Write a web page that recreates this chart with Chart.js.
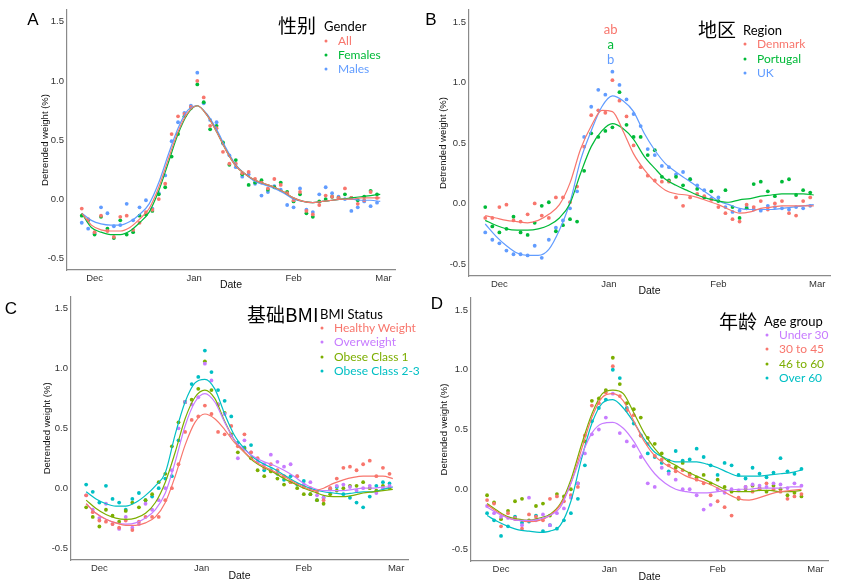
<!DOCTYPE html>
<html>
<head>
<meta charset="utf-8">
<script src="https://cdn.jsdelivr.net/npm/chart.js@4.4.1/dist/chart.umd.min.js"></script>
<style>
  html, body { margin: 0; padding: 0; background: #fff; }
  #wrap { position: relative; width: 861px; height: 588px; overflow: hidden; }
  #wrap canvas { position: absolute; }
  .tag { position: absolute; font-family: "Liberation Sans", Arial, sans-serif; font-size: 17px; line-height: 1; color: #000; transform: translate(-50%, -50%); }
  .txt { position: absolute; line-height: 1; white-space: nowrap; transform: translateY(-50%); }
  .dot { position: absolute; width: 3px; height: 3px; border-radius: 50%; transform: translate(-50%, -50%); }
</style>
</head>
<body>
<div id="wrap"></div>
<script>
'use strict';

// x values are days counted from 1 Dec
const pointDays = [-4, -2, 0, 2, 4, 6, 8, 10, 12, 14, 16, 18, 20, 22, 24, 26, 28, 30, 32, 34,
  36, 38, 40, 42, 44, 46, 48, 50, 52, 54, 56, 58, 60, 62, 64, 66, 68, 70, 72, 74, 76, 78, 80,
  82, 84, 86, 88];
const fitDays = [-4, -1, 2, 5, 8, 11, 14, 17, 20, 23, 26, 29, 32, 35, 38, 41, 44, 47, 50, 53,
  56, 59, 62, 65, 68, 71, 74, 77, 80, 83, 86, 89];
const monthTickDays = [0, 31, 62, 90];
const monthTickLabels = ['Dec', 'Jan', 'Feb', 'Mar'];
const yTickValues = [-0.5, 0, 0.5, 1, 1.5];

// A: gender
const allPts = [-0.08, -0.17, -0.28, -0.14, -0.27, -0.32, -0.15, -0.14, -0.26, -0.20, -0.11, -0.09, 0.00, 0.13, 0.55, 0.70, 0.72, 0.78, 1.00, 0.86, 0.62, 0.60, 0.40, 0.30, 0.30, 0.22, 0.23, 0.17, 0.14, 0.09, 0.17, 0.12, 0.05, -0.01, 0.06, -0.10, -0.13, -0.05, 0.03, 0.02, 0.01, 0.09, 0.01, -0.04, -0.01, 0.06, 0.01];
const femalesPts = [-0.14, -0.18, -0.30, -0.15, -0.25, -0.33, -0.18, -0.30, -0.28, -0.14, -0.13, -0.10, 0.04, 0.10, 0.36, 0.55, 0.70, 0.77, 0.97, 0.82, 0.59, 0.62, 0.48, 0.29, 0.33, 0.21, 0.12, 0.14, 0.16, 0.08, 0.10, 0.14, 0.06, -0.02, 0.04, -0.12, -0.15, -0.02, 0.00, 0.02, 0.01, 0.04, 0.01, -0.01, 0.02, 0.07, 0.04];
const malesPts = [-0.20, -0.25, -0.29, -0.07, -0.12, -0.23, -0.22, -0.04, -0.18, -0.07, -0.01, -0.08, 0.05, 0.20, 0.49, 0.65, 0.73, 0.79, 1.07, 0.81, 0.67, 0.65, 0.47, 0.37, 0.27, 0.19, 0.21, 0.13, 0.03, 0.06, 0.11, 0.08, -0.05, -0.07, 0.09, -0.09, -0.11, 0.04, 0.10, 0.05, 0.02, 0.00, -0.10, -0.07, -0.02, -0.06, -0.03];
const allFit = [-0.12, -0.22, -0.26, -0.27, -0.27, -0.24, -0.17, -0.08, 0.10, 0.34, 0.57, 0.73, 0.79, 0.71, 0.57, 0.41, 0.28, 0.21, 0.16, 0.13, 0.10, 0.06, 0.01, -0.02, -0.03, -0.02, -0.01, 0.00, 0.00, 0.01, 0.01, 0.01];
const femalesFit = [-0.12, -0.24, -0.28, -0.30, -0.30, -0.27, -0.20, -0.11, 0.07, 0.31, 0.55, 0.72, 0.79, 0.71, 0.57, 0.41, 0.28, 0.21, 0.16, 0.13, 0.10, 0.06, 0.01, -0.02, -0.03, -0.02, -0.01, 0.00, 0.01, 0.02, 0.03, 0.04];
const malesFit = [-0.12, -0.18, -0.21, -0.22, -0.22, -0.19, -0.13, -0.04, 0.14, 0.38, 0.60, 0.75, 0.79, 0.72, 0.59, 0.43, 0.29, 0.21, 0.15, 0.12, 0.09, 0.05, 0.00, -0.02, -0.03, -0.02, -0.01, 0.00, 0.00, -0.01, -0.01, -0.02];

// B: region
const denmarkPts = [-0.12, -0.12, -0.03, -0.01, -0.14, -0.15, -0.09, 0.00, -0.10, -0.12, 0.05, 0.05, 0.01, 0.14, 0.47, 0.73, 0.77, 0.75, 1.02, 0.85, 0.72, 0.48, 0.30, 0.23, 0.19, 0.18, 0.18, 0.05, -0.02, 0.05, 0.08, 0.06, 0.03, -0.03, -0.08, -0.13, -0.15, -0.01, -0.03, 0.02, -0.05, 0.00, 0.02, -0.08, -0.10, 0.02, 0.05];
const portugalPts = [-0.03, -0.19, -0.24, -0.21, -0.11, -0.24, -0.26, -0.16, -0.02, 0.01, -0.23, -0.18, -0.13, -0.15, 0.27, 0.58, 0.55, 0.60, 0.63, 0.92, 0.65, 0.55, 0.55, 0.40, 0.44, 0.22, 0.19, 0.22, 0.15, 0.20, 0.12, 0.05, 0.10, 0.02, 0.11, -0.03, -0.12, -0.04, 0.16, 0.18, 0.10, 0.06, 0.18, 0.20, 0.07, 0.11, 0.09];
const ukPts = [-0.24, -0.30, -0.33, -0.39, -0.42, -0.42, -0.43, -0.35, -0.45, -0.30, -0.20, -0.14, -0.04, 0.10, 0.55, 0.80, 0.94, 0.90, 1.09, 0.98, 0.86, 0.74, 0.64, 0.45, 0.40, 0.31, 0.30, 0.24, 0.26, 0.20, 0.15, 0.11, 0.04, 0.05, -0.03, -0.07, -0.06, -0.03, -0.05, -0.06, -0.02, -0.03, -0.04, -0.05, -0.03, -0.04, -0.02];
const denmarkFit = [-0.10, -0.12, -0.14, -0.15, -0.16, -0.14, -0.09, -0.01, 0.17, 0.45, 0.64, 0.77, 0.76, 0.60, 0.41, 0.28, 0.18, 0.11, 0.08, 0.07, 0.05, 0.02, -0.01, -0.05, -0.08, -0.07, -0.04, -0.03, -0.02, -0.02, -0.02, -0.02];
const portugalFit = [-0.14, -0.18, -0.21, -0.22, -0.22, -0.21, -0.18, -0.12, 0.00, 0.25, 0.47, 0.60, 0.66, 0.62, 0.53, 0.39, 0.29, 0.20, 0.15, 0.11, 0.07, 0.04, 0.02, 0.01, 0.03, 0.04, 0.06, 0.07, 0.08, 0.08, 0.08, 0.07];
const ukFit = [-0.17, -0.27, -0.35, -0.41, -0.43, -0.43, -0.38, -0.22, 0.01, 0.36, 0.60, 0.80, 0.89, 0.85, 0.76, 0.58, 0.44, 0.33, 0.26, 0.20, 0.14, 0.08, 0.02, -0.01, -0.04, -0.05, -0.05, -0.05, -0.04, -0.03, -0.02, -0.01];
const sigLetters = ['ab', 'a', 'b'];

// C: baseline BMI
const healthyPts = [-0.06, -0.20, -0.27, -0.28, -0.30, -0.33, -0.27, -0.35, -0.28, -0.24, -0.24, -0.24, -0.10, 0.00, 0.20, 0.47, 0.57, 0.60, 0.69, 0.62, 0.47, 0.45, 0.52, 0.35, 0.45, 0.30, 0.25, 0.17, 0.20, 0.15, 0.10, 0.05, 0.10, 0.01, 0.00, -0.03, -0.10, 0.00, 0.08, 0.17, 0.18, 0.15, 0.20, 0.23, 0.10, 0.17, 0.12];
const overweightPts = [-0.06, -0.18, -0.25, -0.13, -0.30, -0.34, -0.24, -0.33, -0.30, -0.13, -0.18, -0.10, 0.00, 0.15, 0.50, 0.72, 0.70, 0.76, 1.04, 0.90, 0.70, 0.62, 0.44, 0.25, 0.40, 0.30, 0.22, 0.20, 0.28, 0.22, 0.18, 0.20, 0.10, 0.03, 0.05, -0.06, -0.08, 0.00, 0.02, 0.03, 0.01, -0.02, 0.00, 0.02, -0.04, 0.00, 0.02];
const obese1Pts = [-0.16, -0.24, -0.32, -0.18, -0.23, -0.28, -0.19, -0.12, -0.16, -0.10, -0.05, 0.05, 0.12, 0.35, 0.55, 0.72, 0.74, 0.83, 1.06, 0.82, 0.70, 0.63, 0.45, 0.30, 0.33, 0.25, 0.15, 0.10, 0.14, 0.08, 0.03, 0.05, 0.00, -0.05, -0.05, -0.10, -0.13, -0.05, -0.02, 0.00, 0.02, 0.02, 0.05, 0.00, -0.02, 0.02, 0.00];
const obese23Pts = [0.03, -0.03, -0.12, 0.02, -0.09, -0.12, -0.18, -0.09, -0.04, -0.10, -0.07, 0.00, 0.08, 0.10, 0.40, 0.72, 0.87, 0.93, 1.15, 0.97, 0.82, 0.73, 0.60, 0.38, 0.34, 0.36, 0.22, 0.15, 0.15, 0.12, 0.07, 0.10, 0.03, 0.06, -0.05, -0.10, -0.08, -0.01, 0.01, -0.05, -0.08, -0.12, -0.16, -0.07, 0.02, 0.05, 0.04];
const healthyFit = [-0.13, -0.21, -0.26, -0.29, -0.31, -0.31, -0.29, -0.24, -0.12, 0.10, 0.36, 0.55, 0.62, 0.58, 0.49, 0.38, 0.30, 0.23, 0.18, 0.14, 0.10, 0.05, 0.01, -0.02, 0.00, 0.04, 0.07, 0.09, 0.10, 0.10, 0.10, 0.08];
const overweightFit = [-0.13, -0.21, -0.26, -0.29, -0.30, -0.29, -0.25, -0.18, -0.04, 0.22, 0.52, 0.72, 0.79, 0.72, 0.55, 0.40, 0.32, 0.26, 0.22, 0.19, 0.15, 0.10, 0.04, 0.00, -0.02, -0.02, -0.02, -0.01, 0.00, 0.00, 0.01, 0.01];
const obese1Fit = [-0.10, -0.17, -0.22, -0.25, -0.26, -0.25, -0.21, -0.12, 0.05, 0.30, 0.58, 0.76, 0.82, 0.75, 0.56, 0.40, 0.30, 0.22, 0.17, 0.13, 0.08, 0.04, 0.00, -0.03, -0.06, -0.07, -0.07, -0.06, -0.04, -0.03, -0.02, -0.01];
const obese23Fit = [-0.03, -0.09, -0.13, -0.15, -0.15, -0.12, -0.06, 0.02, 0.13, 0.45, 0.72, 0.88, 0.91, 0.83, 0.62, 0.44, 0.33, 0.25, 0.20, 0.16, 0.11, 0.06, 0.02, -0.01, -0.03, -0.04, -0.05, -0.04, -0.03, -0.03, -0.01, 0.01];

// D: age group (series stop a few days earlier)
const under30Pts = [-0.14, -0.20, -0.23, -0.24, -0.25, -0.30, -0.07, -0.26, -0.21, -0.30, -0.20, -0.16, -0.07, 0.05, 0.30, 0.46, 0.50, 0.60, 0.80, 0.47, 0.40, 0.36, 0.27, 0.05, 0.02, 0.18, 0.13, 0.08, 0.00, 0.00, -0.05, -0.17, -0.13, 0.00, -0.03, 0.00, -0.01, 0.02, 0.04, 0.03, 0.02, 0.05, 0.04, 0.01, 0.05, 0.03];
const age30to45Pts = [-0.09, -0.12, -0.31, -0.20, -0.24, -0.33, -0.21, -0.23, -0.26, -0.08, -0.06, -0.10, -0.05, 0.02, 0.45, 0.70, 0.72, 0.81, 1.03, 0.78, 0.66, 0.62, 0.45, 0.38, 0.28, 0.25, 0.20, 0.15, 0.16, 0.12, 0.08, 0.05, -0.05, -0.10, -0.15, -0.22, -0.07, 0.02, -0.02, 0.00, 0.05, 0.00, -0.02, -0.08, -0.06, -0.04];
const age46to60Pts = [-0.05, -0.11, -0.25, -0.18, -0.10, -0.08, -0.26, -0.14, -0.12, -0.22, -0.04, -0.06, 0.00, 0.05, 0.40, 0.74, 0.76, 0.83, 1.10, 0.88, 0.72, 0.67, 0.60, 0.43, 0.38, 0.30, 0.24, 0.18, 0.22, 0.13, 0.10, 0.12, 0.05, 0.08, 0.02, -0.02, -0.08, 0.00, 0.03, 0.01, -0.02, 0.03, 0.00, -0.05, -0.03, -0.06];
const over60Pts = [-0.20, -0.26, -0.39, -0.31, -0.23, -0.28, -0.27, -0.22, -0.35, -0.30, -0.33, -0.26, -0.20, -0.08, 0.20, 0.57, 0.68, 0.75, 1.00, 0.93, 0.68, 0.55, 0.45, 0.30, 0.27, 0.22, 0.15, 0.32, 0.24, 0.25, 0.34, 0.27, 0.20, 0.12, 0.22, 0.20, 0.12, 0.09, 0.18, 0.13, 0.10, 0.14, 0.26, 0.15, 0.13, 0.17];
const under30Fit = [-0.15, -0.20, -0.24, -0.26, -0.26, -0.25, -0.22, -0.15, 0.05, 0.28, 0.47, 0.55, 0.56, 0.51, 0.40, 0.25, 0.13, 0.05, 0.00, -0.02, -0.03, -0.03, -0.02, -0.01, 0.00, 0.00, 0.01, 0.01, 0.01, 0.02, 0.02];
const age30to45Fit = [-0.13, -0.19, -0.24, -0.26, -0.27, -0.26, -0.22, -0.13, 0.05, 0.33, 0.60, 0.77, 0.80, 0.74, 0.57, 0.40, 0.28, 0.21, 0.16, 0.11, 0.08, 0.05, 0.01, -0.04, -0.08, -0.09, -0.07, -0.04, -0.02, -0.01, 0.00];
const age46to60Fit = [-0.12, -0.18, -0.23, -0.25, -0.26, -0.24, -0.21, -0.12, 0.08, 0.37, 0.63, 0.80, 0.83, 0.80, 0.64, 0.47, 0.34, 0.25, 0.20, 0.15, 0.11, 0.07, 0.03, -0.01, -0.02, -0.02, -0.01, -0.01, -0.02, -0.02, -0.01];
const over60Fit = [-0.22, -0.27, -0.31, -0.34, -0.35, -0.36, -0.35, -0.30, -0.10, 0.25, 0.55, 0.72, 0.75, 0.68, 0.56, 0.42, 0.31, 0.26, 0.23, 0.23, 0.23, 0.21, 0.18, 0.14, 0.11, 0.11, 0.11, 0.12, 0.13, 0.14, 0.16];

const RED = '#F8766D', GREEN = '#00BA38', BLUE = '#619CFF';
const OLIVE = '#7CAE00', CYAN = '#00BFC4', PURPLE = '#C77CFF';

const panels = [
  {
    tag: 'A', tagX: 33, tagY: 19,
    box: {left: 0, top: 0, w: 430, h: 296}, pad: {left: 36, top: 10, right: 35, bottom: 1}, yw: 31, xh: 25,
    legend: {cjk: '性别', title: 'Gender', cjkX: 278, cjkY: 24, titleX: 324, titleY: 26, dotX: 326, textX: 338, itemY: 41, step: 14},
    series: [
      {name: 'All', color: RED, pts: allPts, fit: allFit},
      {name: 'Females', color: GREEN, pts: femalesPts, fit: femalesFit},
      {name: 'Males', color: BLUE, pts: malesPts, fit: malesFit}
    ]
  },
  {
    tag: 'B', tagX: 431, tagY: 19,
    box: {left: 430, top: 0, w: 431, h: 302}, pad: {left: 4, top: 10, right: 31, bottom: 1}, yw: 35, xh: 25,
    legend: {cjk: '地区', title: 'Region', cjkX: 698, cjkY: 28, titleX: 743, titleY: 30, dotX: 745, textX: 757, itemY: 44, step: 14.5},
    letters: true,
    series: [
      {name: 'Denmark', color: RED, pts: denmarkPts, fit: denmarkFit},
      {name: 'Portugal', color: GREEN, pts: portugalPts, fit: portugalFit},
      {name: 'UK', color: BLUE, pts: ukPts, fit: ukFit}
    ]
  },
  {
    tag: 'C', tagX: 11, tagY: 308,
    box: {left: 0, top: 288, w: 430, h: 300}, pad: {left: 38, top: 7, right: 22, bottom: 2}, yw: 33, xh: 26,
    legend: {cjk: '基础BMI', title: 'BMI Status', cjkX: 247, cjkY: 313, titleX: 320, titleY: 314, dotX: 322, textX: 334, itemY: 328, step: 14.4},
    series: [
      {name: 'Healthy Weight', color: RED, pts: healthyPts, fit: healthyFit},
      {name: 'Overweight', color: PURPLE, pts: overweightPts, fit: overweightFit},
      {name: 'Obese Class 1', color: OLIVE, pts: obese1Pts, fit: obese1Fit},
      {name: 'Obese Class 2-3', color: CYAN, pts: obese23Pts, fit: obese23Fit}
    ]
  },
  {
    tag: 'D', tagX: 437, tagY: 303,
    box: {left: 430, top: 288, w: 431, h: 300}, pad: {left: 5, top: 10, right: 33, bottom: 1}, yw: 36, xh: 26,
    legend: {cjk: '年龄', title: 'Age group', cjkX: 719, cjkY: 320, titleX: 764, titleY: 321, dotX: 767, textX: 779, itemY: 335, step: 14.4},
    series: [
      {name: 'Under 30', color: PURPLE, pts: under30Pts, fit: under30Fit},
      {name: '30 to 45', color: RED, pts: age30to45Pts, fit: age30to45Fit},
      {name: '46 to 60', color: OLIVE, pts: age46to60Pts, fit: age46to60Fit},
      {name: 'Over 60', color: CYAN, pts: over60Pts, fit: over60Fit}
    ]
  }
];

const wrap = document.getElementById('wrap');
const tickFont = {family: '"Liberation Sans", Arial, sans-serif', size: 9.5};
const titleFont = {family: '"Liberation Sans", Arial, sans-serif', size: 10.5};

function addText (text, x, y, css, cls)
{
    const el = document.createElement('div');
    el.className = cls || 'txt';
    el.textContent = text;
    el.style.left = x + 'px';
    el.style.top = y + 'px';
    Object.assign(el.style, css || {});
    wrap.appendChild(el);
    return el;
}

// significance letters above the Jan peak in panel B
const lettersPlugin = {
    id: 'sigLetters',
    afterDatasetsDraw (chart, args, opts)
    {
        if (!opts.show) return;
        const {ctx, scales} = chart;
        const x = scales.x.getPixelForValue(31.5);
        const ys = [1.44, 1.31, 1.19];
        const cols = [RED, GREEN, BLUE];
        ctx.save();
        ctx.font = '13px Lato, sans-serif';
        ctx.textAlign = 'center';
        ctx.textBaseline = 'middle';
        sigLetters.forEach((t, i) =>
        {
            ctx.fillStyle = cols[i];
            ctx.fillText(t, x, scales.y.getPixelForValue(ys[i]));
        });
        ctx.restore();
    }
};

function drawPanel (p)
{
    const canvas = document.createElement('canvas');
    canvas.width = p.box.w;
    canvas.height = p.box.h;
    canvas.style.left = p.box.left + 'px';
    canvas.style.top = p.box.top + 'px';
    canvas.style.width = p.box.w + 'px';
    canvas.style.height = p.box.h + 'px';
    wrap.appendChild(canvas);

    const datasets = [];
    p.series.forEach((s) =>
    {
        datasets.push({
            type: 'scatter',
            label: s.name,
            data: s.pts.map((v, i) => ({x: pointDays[i], y: v})),
            backgroundColor: s.color,
            borderWidth: 0,
            pointRadius: 1.9,
            order: 2
        });
        datasets.push({
            type: 'line',
            label: s.name + ' fit',
            data: s.fit.map((v, i) => ({x: fitDays[i], y: v})),
            borderColor: s.color,
            borderWidth: 1.2,
            pointRadius: 0,
            fill: false,
            cubicInterpolationMode: 'monotone',
            order: 1
        });
    });

    new Chart(canvas.getContext('2d'), {
        data: {datasets},
        plugins: [lettersPlugin],
        options: {
            responsive: false,
            animation: false,
            devicePixelRatio: 1,
            layout: {padding: p.pad, autoPadding: false},
            plugins: {
                legend: {display: false},
                tooltip: {enabled: false},
                sigLetters: {show: !!p.letters}
            },
            scales: {
                x: {
                    type: 'linear',
                    min: -8.6,
                    max: 93.6,
                    afterBuildTicks: (s) => { s.ticks = monthTickDays.map((v) => ({value: v})); },
                    afterFit: (s) => { s.height = p.xh; },
                    ticks: {
                        callback: (v) => monthTickLabels[monthTickDays.indexOf(v)],
                        color: '#333', font: tickFont, padding: 3,
                        autoSkip: false, maxRotation: 0
                    },
                    grid: {display: false, drawTicks: false},
                    border: {display: true, color: '#8a8a8a', width: 1.2},
                    title: {display: true, text: 'Date', color: '#111', font: titleFont, padding: {top: 0, bottom: 4}}
                },
                y: {
                    type: 'linear',
                    min: -0.6,
                    max: 1.6,
                    afterBuildTicks: (s) => { s.ticks = yTickValues.map((v) => ({value: v})); },
                    afterFit: (s) => { s.width = p.yw; },
                    ticks: {
                        callback: (v) => v.toFixed(1),
                        color: '#333', font: tickFont, padding: 3
                    },
                    grid: {display: false, drawTicks: false},
                    border: {display: true, color: '#8a8a8a', width: 1.2},
                    title: {display: true, text: 'Detrended weight (%)', color: '#111', font: {family: titleFont.family, size: 9.5}, padding: {top: 4, bottom: 0}}
                }
            }
        }
    });

    // panel letter
    addText(p.tag, p.tagX, p.tagY, {}, 'tag');

    // legend in the style of the figure
    const L = p.legend;
    addText(L.cjk, L.cjkX, L.cjkY, {fontFamily: '"Noto Sans CJK SC", sans-serif', fontSize: '19px', color: '#000'});
    addText(L.title, L.titleX, L.titleY, {fontFamily: 'Lato, sans-serif', fontSize: '13px', color: '#000'});
    p.series.forEach((s, i) =>
    {
        const y = L.itemY + i * L.step;
        const d = document.createElement('div');
        d.className = 'dot';
        d.style.left = L.dotX + 'px';
        d.style.top = y + 'px';
        d.style.background = s.color;
        wrap.appendChild(d);
        addText(s.name, L.textX, y, {fontFamily: 'Lato, sans-serif', fontSize: '12px', color: s.color});
    });
}

panels.forEach(drawPanel);
</script>
</body>
</html>
